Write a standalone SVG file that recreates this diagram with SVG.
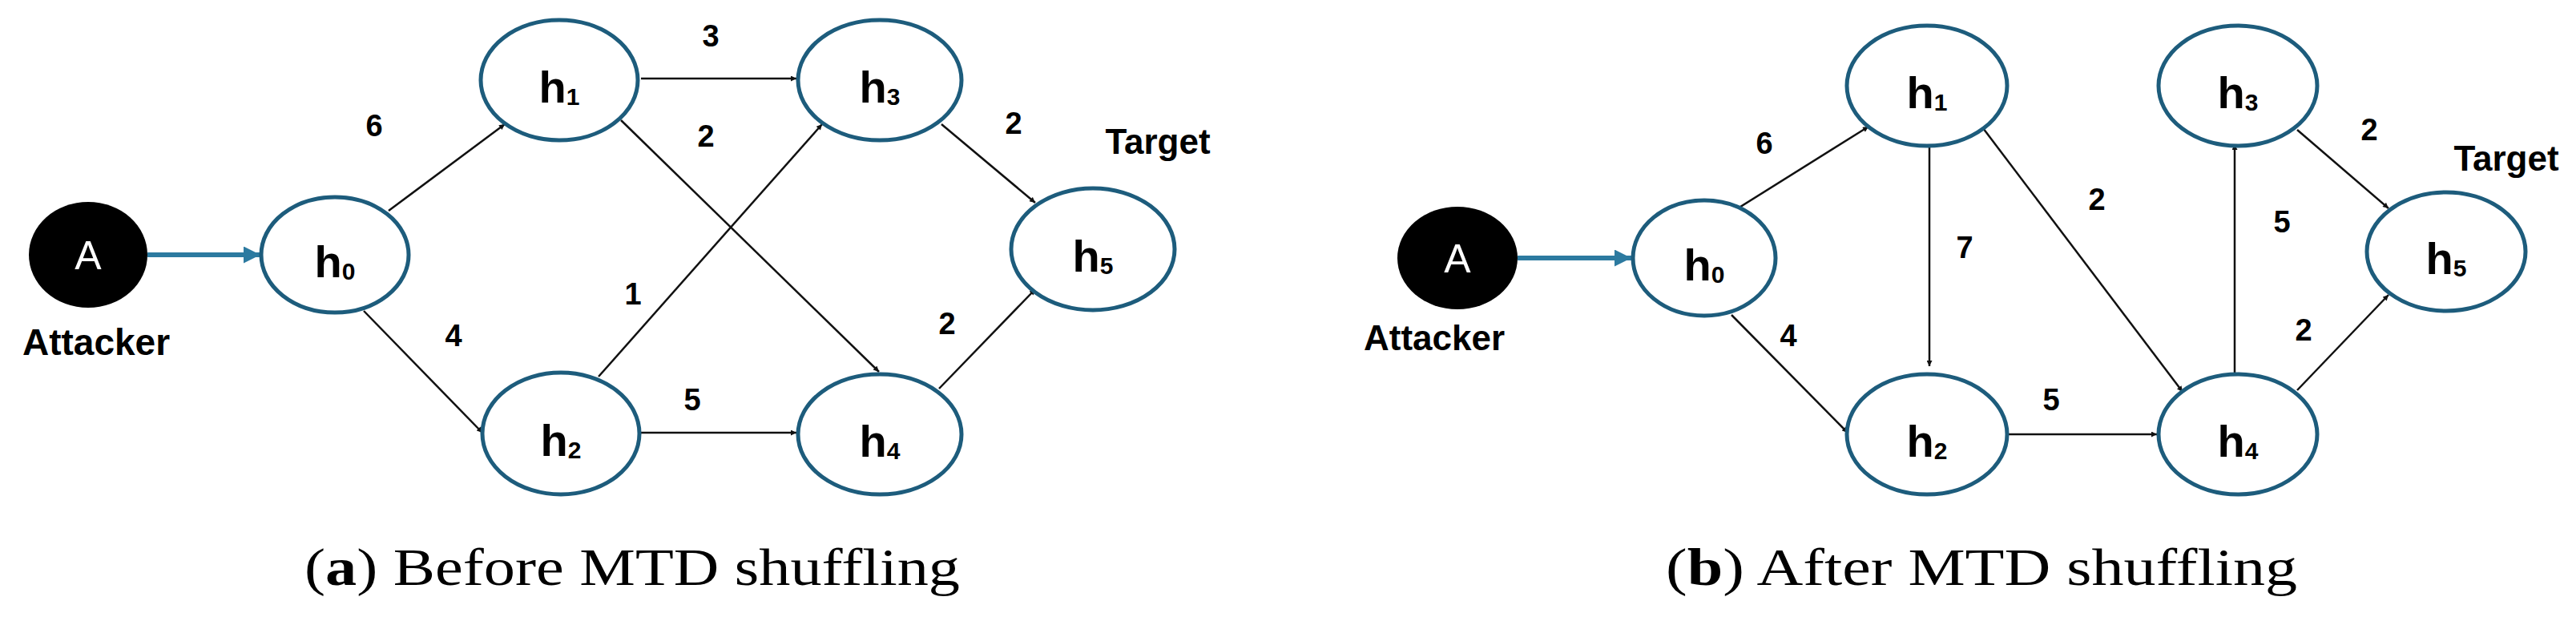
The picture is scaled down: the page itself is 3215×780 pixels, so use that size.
<svg xmlns="http://www.w3.org/2000/svg" width="3215" height="780" viewBox="0 0 3215 780">
<style>
.n{fill:#fff;stroke:#1d5c7c;stroke-width:5}
.a{fill:#000}
.lb{font-family:"Liberation Sans",Arial,sans-serif;font-weight:bold;fill:#000}
.hl{font-size:56px;text-anchor:middle}
.w{font-size:38px;text-anchor:middle}
.e{stroke:#111;stroke-width:2.5;fill:none;marker-end:url(#ar)}
.t{stroke:#2c7aa0;stroke-width:6;fill:none;marker-end:url(#at)}
.cap{font-family:"Liberation Serif","Times New Roman",serif;font-size:66px;fill:#000}
</style>
<defs>
<marker id="ar" viewBox="0 0 10 10" refX="10" refY="5" markerWidth="8" markerHeight="7" markerUnits="userSpaceOnUse" orient="auto"><path d="M0,0 L10,5 L0,10 z" fill="#111"/></marker>
<marker id="at" viewBox="0 0 10 10" refX="10" refY="5" markerWidth="3.5" markerHeight="3.5" orient="auto"><path d="M0,0 L10,5 L0,10 z" fill="#2c7aa0"/></marker>
</defs>
<rect width="3215" height="780" fill="#fff"/>
<g id="connectors">
<line class="t" x1="184" y1="318" x2="325" y2="318"/>
<line class="e" x1="485" y1="263" x2="630" y2="155"/>
<line class="e" x1="454" y1="388" x2="602" y2="540"/>
<line class="e" x1="800" y1="98" x2="994" y2="98"/>
<line class="e" x1="775" y1="150" x2="1097" y2="464"/>
<line class="e" x1="747" y1="470" x2="1026" y2="155"/>
<line class="e" x1="1175" y1="155" x2="1292" y2="253"/>
<line class="e" x1="1172" y1="485" x2="1292" y2="361"/>
<line class="e" x1="800" y1="540" x2="994" y2="540"/>
<line class="t" x1="1894" y1="322" x2="2036" y2="322"/>
<line class="e" x1="2153" y1="270" x2="2332" y2="158"/>
<line class="e" x1="2161" y1="393" x2="2306" y2="540"/>
<line class="e" x1="2408" y1="182" x2="2408" y2="457"/>
<line class="e" x1="2475" y1="160" x2="2724" y2="489"/>
<line class="e" x1="2789" y1="468" x2="2789" y2="180"/>
<line class="e" x1="2867" y1="162" x2="2981" y2="260"/>
<line class="e" x1="2867" y1="487" x2="2981" y2="368"/>
<line class="e" x1="2506" y1="542" x2="2692" y2="542"/>
</g>
<g id="left-A"><ellipse cx="110" cy="318" rx="74" ry="66" fill="#000"/><text class="lb" x="110" y="336" font-size="50" font-weight="normal" text-anchor="middle" fill="#fff" style="font-weight:normal;fill:#fff">A</text><text class="lb" x="120" y="443" font-size="46" text-anchor="middle">Attacker</text></g>
<g id="left-h0"><ellipse class="n" cx="418" cy="318" rx="92" ry="72"/><text class="lb hl" x="418" y="346">h<tspan font-size="30" dy="3">0</tspan></text></g>
<g id="left-h1"><ellipse class="n" cx="698" cy="100" rx="98" ry="75"/><text class="lb hl" x="698" y="128">h<tspan font-size="30" dy="3">1</tspan></text></g>
<g id="left-h2"><ellipse class="n" cx="700" cy="541" rx="98" ry="76"/><text class="lb hl" x="700" y="569">h<tspan font-size="30" dy="3">2</tspan></text></g>
<g id="left-h3"><ellipse class="n" cx="1098" cy="100" rx="102" ry="75"/><text class="lb hl" x="1098" y="128">h<tspan font-size="30" dy="3">3</tspan></text></g>
<g id="left-h4"><ellipse class="n" cx="1098" cy="542" rx="102" ry="75"/><text class="lb hl" x="1098" y="570">h<tspan font-size="30" dy="3">4</tspan></text></g>
<g id="left-h5"><ellipse class="n" cx="1364" cy="311" rx="102" ry="76"/><text class="lb hl" x="1364" y="339">h<tspan font-size="30" dy="3">5</tspan></text><text class="lb" x="1445" y="192" font-size="44" text-anchor="middle">Target</text></g>
<g id="left-labels" class="lb">
<text class="w" x="467" y="170">6</text><text class="w" x="566" y="432">4</text><text class="w" x="887" y="58">3</text><text class="w" x="881" y="183">2</text><text class="w" x="790" y="380">1</text><text class="w" x="864" y="512">5</text><text class="w" x="1265" y="167">2</text><text class="w" x="1182" y="417">2</text>
</g>
<text class="cap" x="380" y="730" textLength="818" lengthAdjust="spacingAndGlyphs">(<tspan font-weight="bold">a</tspan>) Before MTD shuffling</text>
<g id="right-A"><ellipse cx="1819" cy="322" rx="75" ry="64" fill="#000"/><text x="1819" y="340" font-family="Liberation Sans,Arial,sans-serif" font-size="50" text-anchor="middle" fill="#fff">A</text><text class="lb" x="1790" y="437" font-size="44" text-anchor="middle">Attacker</text></g>
<g id="right-h0"><ellipse class="n" cx="2127" cy="322" rx="89" ry="72"/><text class="lb hl" x="2127" y="350">h<tspan font-size="30" dy="3">0</tspan></text></g>
<g id="right-h1"><ellipse class="n" cx="2405" cy="107" rx="100" ry="75"/><text class="lb hl" x="2405" y="135">h<tspan font-size="30" dy="3">1</tspan></text></g>
<g id="right-h2"><ellipse class="n" cx="2405" cy="542" rx="100" ry="75"/><text class="lb hl" x="2405" y="570">h<tspan font-size="30" dy="3">2</tspan></text></g>
<g id="right-h3"><ellipse class="n" cx="2793" cy="107" rx="99" ry="75"/><text class="lb hl" x="2793" y="135">h<tspan font-size="30" dy="3">3</tspan></text></g>
<g id="right-h4"><ellipse class="n" cx="2793" cy="542" rx="99" ry="75"/><text class="lb hl" x="2793" y="570">h<tspan font-size="30" dy="3">4</tspan></text></g>
<g id="right-h5"><ellipse class="n" cx="3053" cy="314" rx="99" ry="74"/><text class="lb hl" x="3053" y="342">h<tspan font-size="30" dy="3">5</tspan></text><text class="lb" x="3128" y="213" font-size="44" text-anchor="middle">Target</text></g>
<g id="right-labels" class="lb">
<text class="w" x="2202" y="192">6</text><text class="w" x="2232" y="432">4</text><text class="w" x="2452" y="322">7</text><text class="w" x="2617" y="262">2</text><text class="w" x="2560" y="512">5</text><text class="w" x="2848" y="290">5</text><text class="w" x="2957" y="175">2</text><text class="w" x="2875" y="425">2</text>
</g>
<text class="cap" x="2079" y="730" textLength="788" lengthAdjust="spacingAndGlyphs">(<tspan font-weight="bold">b</tspan>) After MTD shuffling</text>
</svg>
